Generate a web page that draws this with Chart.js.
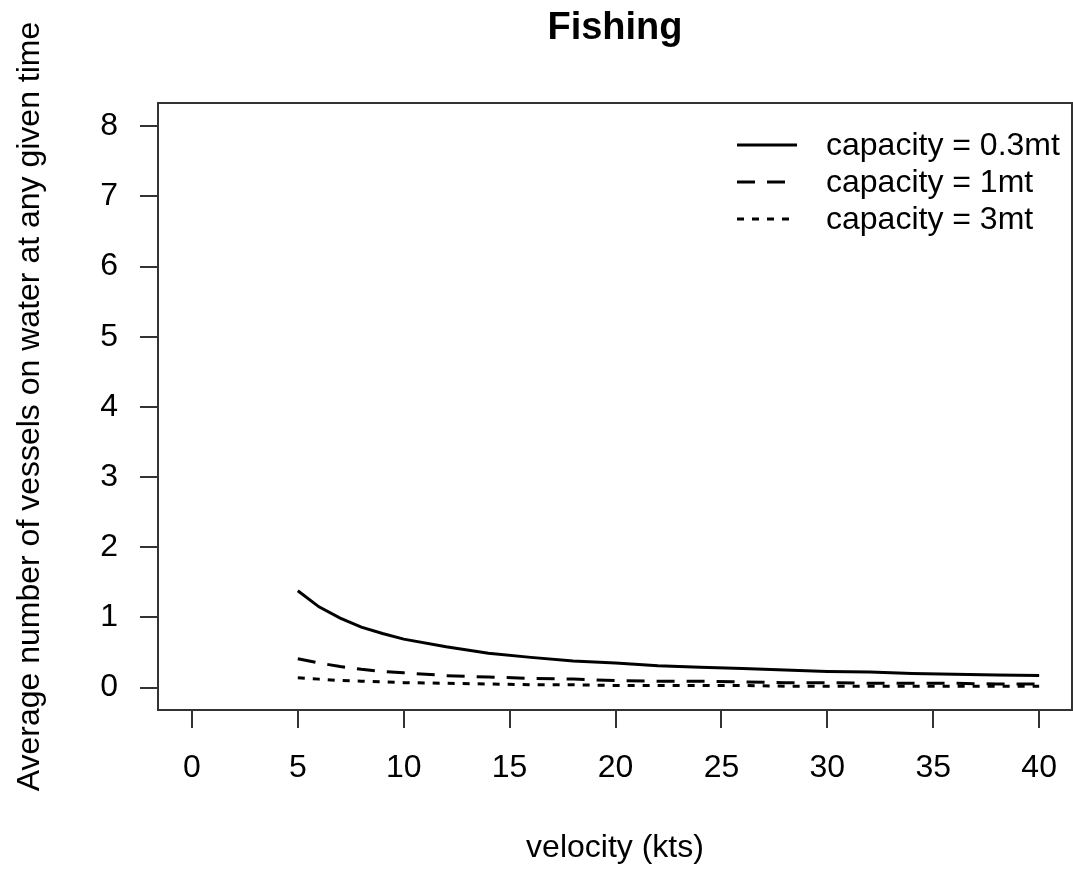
<!DOCTYPE html>
<html>
<head>
<meta charset="utf-8">
<script src="https://cdn.jsdelivr.net/npm/chart.js"></script>
<style>
  html, body { margin: 0; padding: 0; background: #fff; }
  #wrap { width: 1073px; height: 869px; }
</style>
</head>
<body>
<div id="wrap"><canvas id="myChart" width="1073" height="869"></canvas></div>
<script>
// velocities (kts)
const velocity = [5, 6, 7, 8, 9, 10, 12, 14, 16, 18, 20, 22, 24, 26, 28, 30, 32, 34, 36, 38, 40];
const cap03 = [1.38, 1.15, 0.99, 0.86, 0.77, 0.69, 0.58, 0.49, 0.43, 0.38, 0.35, 0.31, 0.29, 0.27, 0.25, 0.23, 0.22, 0.20, 0.19, 0.18, 0.17];
const cap1 = [0.41, 0.35, 0.30, 0.26, 0.23, 0.21, 0.17, 0.15, 0.13, 0.12, 0.10, 0.09, 0.09, 0.08, 0.07, 0.07, 0.06, 0.06, 0.06, 0.05, 0.05];
const cap3 = [0.14, 0.12, 0.10, 0.09, 0.08, 0.07, 0.06, 0.05, 0.04, 0.04, 0.03, 0.03, 0.03, 0.03, 0.02, 0.02, 0.02, 0.02, 0.02, 0.02, 0.02];
const seriesNames = ["capacity = 0.3mt", "capacity = 1mt", "capacity = 3mt"];
const xTicks = [0, 5, 10, 15, 20, 25, 30, 35, 40];
const yTicks = [0, 1, 2, 3, 4, 5, 6, 7, 8];

const FONT = "'Liberation Sans', Arial, sans-serif";
const INK = "#000";
const AXIS = "#333";

function pts(ys) {
  return ys.map((y, i) => ({ x: velocity[i], y: y }));
}

const dashes = [[], [18, 12], [7, 8]];

// no extra room for overhanging tick labels
function noPad(s) {
  s.paddingLeft = 0;
  s.paddingRight = 0;
  s.paddingTop = 0;
  s.paddingBottom = 0;
}

// title, box and legend drawn on top of the chart
const extras = {
  id: "extras",
  afterDraw(chart) {
    const ctx = chart.ctx;
    const a = chart.chartArea;
    ctx.save();
    ctx.strokeStyle = AXIS;
    ctx.lineWidth = 2;
    ctx.strokeRect(a.left, a.top, a.right - a.left, a.bottom - a.top);

    ctx.fillStyle = INK;
    ctx.font = "bold 38px " + FONT;
    ctx.textAlign = "center";
    ctx.textBaseline = "middle";
    ctx.fillText("Fishing", (a.left + a.right) / 2, 29);

    ctx.font = "32px " + FONT;
    ctx.textAlign = "left";
    seriesNames.forEach((name, i) => {
      const y = 145 + i * 37;
      ctx.beginPath();
      ctx.setLineDash(dashes[i]);
      ctx.lineWidth = 3;
      ctx.strokeStyle = INK;
      ctx.moveTo(737, y);
      ctx.lineTo(797, y);
      ctx.stroke();
      ctx.setLineDash([]);
      ctx.fillText(name, 826, y + 1);
    });
    ctx.restore();
  },
};

new Chart("myChart", {
  type: "line",
  data: {
    datasets: [
      { label: seriesNames[0], data: pts(cap03), borderDash: dashes[0] },
      { label: seriesNames[1], data: pts(cap1), borderDash: dashes[1] },
      { label: seriesNames[2], data: pts(cap3), borderDash: dashes[2] },
    ].map((d) => Object.assign(d, {
      borderColor: INK,
      borderWidth: 3,
      pointRadius: 0,
      fill: false,
      tension: 0,
    })),
  },
  options: {
    responsive: false,
    animation: false,
    devicePixelRatio: 1,
    layout: { padding: { top: 103, right: 1, left: 0, bottom: 0 } },
    plugins: {
      legend: { display: false },
      title: { display: false },
      tooltip: { enabled: false },
    },
    scales: {
      x: {
        type: "linear",
        min: -1.6,
        max: 41.55,
        afterBuildTicks: (s) => { s.ticks = xTicks.map((v) => ({ value: v })); },
        afterFit: (s) => { s.height = 869 - 710; noPad(s); },
        border: { display: false },
        grid: { drawOnChartArea: false, drawTicks: true, tickLength: 18, color: AXIS, lineWidth: 2 },
        ticks: { color: INK, font: { family: FONT, size: 32 }, padding: 21, maxRotation: 0 },
        title: {
          display: true,
          text: "velocity (kts)",
          color: INK,
          font: { family: FONT, size: 32 },
          padding: { top: 0, bottom: 2 },
        },
      },
      y: {
        min: -0.32,
        max: 8.33,
        afterBuildTicks: (s) => { s.ticks = yTicks.map((v) => ({ value: v })); },
        afterFit: (s) => { s.width = 158; noPad(s); },
        border: { display: false },
        grid: { drawOnChartArea: false, drawTicks: true, tickLength: 18, color: AXIS, lineWidth: 2 },
        ticks: { color: INK, font: { family: FONT, size: 32 }, padding: 22 },
        title: {
          display: true,
          text: "Average number of vessels on water at any given time",
          color: INK,
          font: { family: FONT, size: 32 },
          padding: { top: 11, bottom: 0 },
        },
      },
    },
  },
  plugins: [extras],
});
</script>
</body>
</html>
